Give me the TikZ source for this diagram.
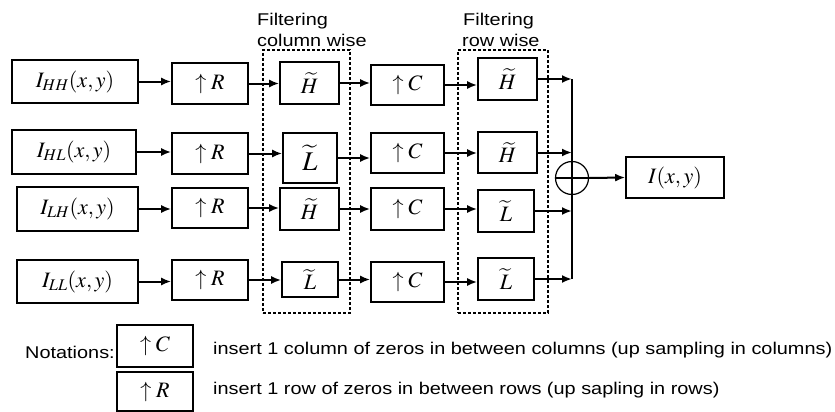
\documentclass[tikz,border=0pt]{standalone}
\usepackage{mathptmx}
\usepackage{fontspec}
\setmainfont{Liberation Serif}
\newfontfamily\labfamily[FakeStretch=1.17]{Liberation Sans}
\usetikzlibrary{arrows.meta}
\newcommand\mfont{\fontsize{22}{24}\selectfont}
\newcommand\bigmfont{\fontsize{27}{29}\selectfont}
\newcommand\labfont{\labfamily\fontsize{17}{19}\selectfont}
\tikzset{
  box/.style={draw, line width=1.6pt, inner sep=0pt, font=\mfont},
  arr/.style={line width=2pt, -{Latex[length=10pt,width=8pt]}},
  grp/.style={draw, line width=2.6pt, dash pattern=on 3pt off 2pt, inner sep=0pt},
  lab/.style={font=\labfont, inner sep=0pt, anchor=west},
  wire/.style={line width=2pt}
}
\begin{document}
\begin{tikzpicture}[x=1pt,y=-1pt]
\useasboundingbox (0,0) rectangle (835,412);
% group boxes
\node[grp, minimum width=87, minimum height=263] (G1) at (306.5,181.5) {};
\node[grp, minimum width=90, minimum height=263] (G2) at (503,181.5) {};
\node[lab] (L1a) at (257,21) {Filtering};
\node[lab] (L1b) at (257,40) {column wise};
\node[lab] (L2a) at (463,21) {Filtering};
\node[lab] (L2b) at (462,40) {row wise};
% inputs
\node[box, minimum width=126, minimum height=43] (A1) at (75,81.5) {$I_{HH}(x,y)$};
\node[box, minimum width=124, minimum height=44] (A2) at (74,152) {$I_{HL}(x,y)$};
\node[box, minimum width=121, minimum height=44] (A3) at (77.5,209) {$I_{LH}(x,y)$};
\node[box, minimum width=121, minimum height=43] (A4) at (77.5,281.5) {$I_{LL}(x,y)$};
% up R
\node[box, minimum width=76, minimum height=41] (B1) at (210,83.5) {$\uparrow R$};
\node[box, minimum width=76, minimum height=41] (B2) at (210,153.5) {$\uparrow R$};
\node[box, minimum width=76, minimum height=40] (B3) at (210,208) {$\uparrow R$};
\node[box, minimum width=76, minimum height=40] (B4) at (210,280) {$\uparrow R$};
% column filters
\node[box, minimum width=59, minimum height=42] (C1) at (309.5,83) {$\widetilde{H}$};
\node[box, minimum width=54, minimum height=50, font=\bigmfont] (C2) at (310,158) {$\widetilde{L}$};
\node[box, minimum width=59, minimum height=42] (C3) at (309.5,209) {$\widetilde{H}$};
\node[box, minimum width=56, minimum height=35] (C4) at (310,279.5) {$\widetilde{L}$};
% up C
\node[box, minimum width=73, minimum height=40] (D1) at (407.5,85) {$\uparrow C$};
\node[box, minimum width=73, minimum height=40] (D2) at (407.5,153) {$\uparrow C$};
\node[box, minimum width=73, minimum height=42] (D3) at (407.5,209) {$\uparrow C$};
\node[box, minimum width=73, minimum height=40] (D4) at (407.5,282) {$\uparrow C$};
% row filters
\node[box, minimum width=59, minimum height=42] (E1) at (507.5,79) {$\widetilde{H}$};
\node[box, minimum width=59, minimum height=41] (E2) at (507.5,152.5) {$\widetilde{H}$};
\node[box, minimum width=56, minimum height=42] (E3) at (506,211) {$\widetilde{L}$};
\node[box, minimum width=56, minimum height=42] (E4) at (506,279) {$\widetilde{L}$};
% sum and output
\node[draw, circle, line width=1.2pt, minimum size=33, inner sep=0pt] (S) at (572,178) {};
\node[box, minimum width=98, minimum height=41] (F) at (675,177.5) {$I(x,y)$};
% arrows
\foreach \r in {1,2,3,4}{
  \draw[arr] (A\r.east) -- (A\r.east -| B\r.west);
  \draw[arr] (B\r.east) -- (B\r.east -| C\r.west);
  \draw[arr] (C\r.east) -- (C\r.east -| D\r.west);
  \draw[arr] (D\r.east) -- (D\r.east -| E\r.west);
  \coordinate (O\r) at (E\r.east -| S.center);
  \draw[arr] (E\r.east) -- (O\r);
}
\draw[wire] (O1) -- (O4);
\draw[line width=1.2pt] (S.west) -- (S.east);
\draw[arr] (S.east) -- (F.west);
% notations
\node[lab] (N0) at (25,352) {Notations:};
\node[box, minimum width=76, minimum height=42] (N1) at (155,346) {$\uparrow C$};
\node[box, minimum width=76, minimum height=39] (N2) at (155,391.5) {$\uparrow R$};
\node[lab] (T1) at (213,350) {insert 1 column of zeros in between columns (up sampling in columns)};
\node[lab] (T2) at (213,390) {insert 1 row of zeros in between rows (up sapling in rows)};
\end{tikzpicture}
\end{document}
